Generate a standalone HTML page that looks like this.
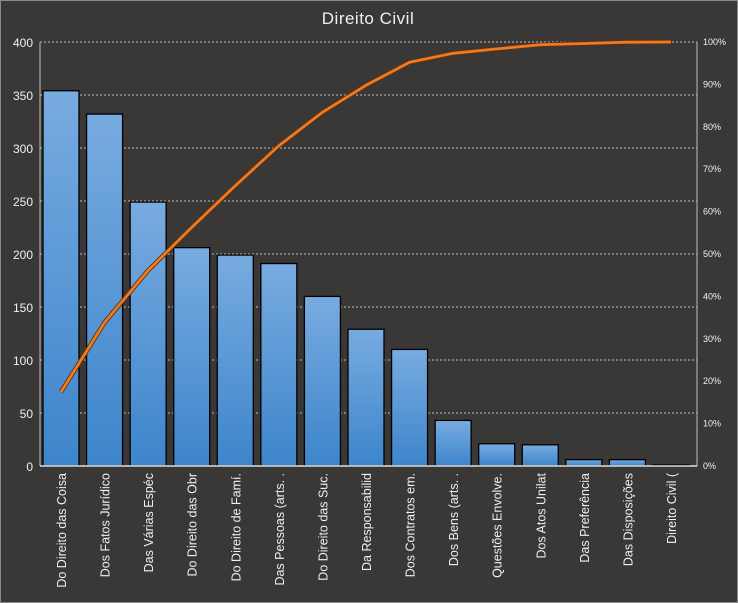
<!DOCTYPE html>
<html><head><meta charset="utf-8"><style>
html,body{margin:0;padding:0;background:#3a3836;}
svg{display:block;font-family:"Liberation Sans","DejaVu Sans",sans-serif;}
</style></head><body>
<svg id="c" width="738" height="603" xmlns="http://www.w3.org/2000/svg">
<defs><linearGradient id="g" x1="0" y1="0" x2="0" y2="1">
<stop offset="0" stop-color="#78abe0"/><stop offset="1" stop-color="#3d85cb"/></linearGradient></defs>
<rect x="0.5" y="0.5" width="737" height="602" fill="#3a3836" stroke="#8a8a8a"/>
<text x="368" y="24" fill="#f0f0f0" font-size="17" text-anchor="middle" letter-spacing="0.5">Direito Civil</text>
</svg>
<script>
var s=document.getElementById('c'),ns='http://www.w3.org/2000/svg';
function el(t,a,txt){var e=document.createElementNS(ns,t);for(var k in a)e.setAttribute(k,a[k]);if(txt!=null)e.textContent=txt;s.appendChild(e);return e;}
var L=40,R=697,T=42,B=466,H=B-T;
for(var i=0;i<=8;i++){var y=B-i*H/8;
 if(i>0)el('line',{x1:L,x2:R,y1:y,y2:y,stroke:'#bdbdbd','stroke-dasharray':'2,2','stroke-width':1});
 el('text',{x:33,y:y+5,fill:'#f0f0f0','font-size':12,'text-anchor':'end'},String(i*50));}
for(var i=0;i<=10;i++){var y=B-i*H/10;el('text',{x:703,y:y+3,fill:'#f0f0f0','font-size':9},(i*10)+'%');}
var v=[354,332,249,206,199,191,160,129,110,43,21,20,6,6,1];
var lab=['Do Direito das Coisa','Dos Fatos Jurídico','Das Várias Espéc','Do Direito das Obr','Do Direito de Famí.','Das Pessoas (arts. .','Do Direito das Suc.','Da Responsabilid','Dos Contratos em.','Dos Bens (arts. .','Questões Envolve.','Dos Atos Unilat','Das Preferência','Das Disposições','Direito Civil ('];
var n=15;var tot=v.reduce(function(a,b){return a+b},0);
var cum=0,pts=[];
for(var i=0;i<n;i++){var x=43+i*43.57,h=v[i]*H/400;
 el('rect',{x:x,y:B-h,width:36,height:Math.max(h,1),fill:'url(#g)',stroke:'#000','stroke-width':1.3});
 cum+=v[i];pts.push((x+18)+','+(B-cum/tot*H));
 var tx=x+18+5,ty=473;
 el('text',{x:tx,y:ty,fill:'#f0f0f0','font-size':12.5,'text-anchor':'end',transform:'rotate(-90 '+tx+' '+ty+')'},lab[i]);}
el('line',{x1:L,x2:L,y1:T,y2:B,stroke:'#bdbdbd'});
el('line',{x1:R,x2:R,y1:T,y2:B,stroke:'#bdbdbd'});
el('line',{x1:L,x2:R,y1:B,y2:B,stroke:'#e0e0e0','stroke-width':1.5});
el('polyline',{points:pts.join(' '),fill:'none',stroke:'#5a3010','stroke-width':4.5,'stroke-linejoin':'round'});
el('polyline',{points:pts.join(' '),fill:'none',stroke:'#f07a22','stroke-width':2.8,'stroke-linejoin':'round'});
</script>
</body></html>
